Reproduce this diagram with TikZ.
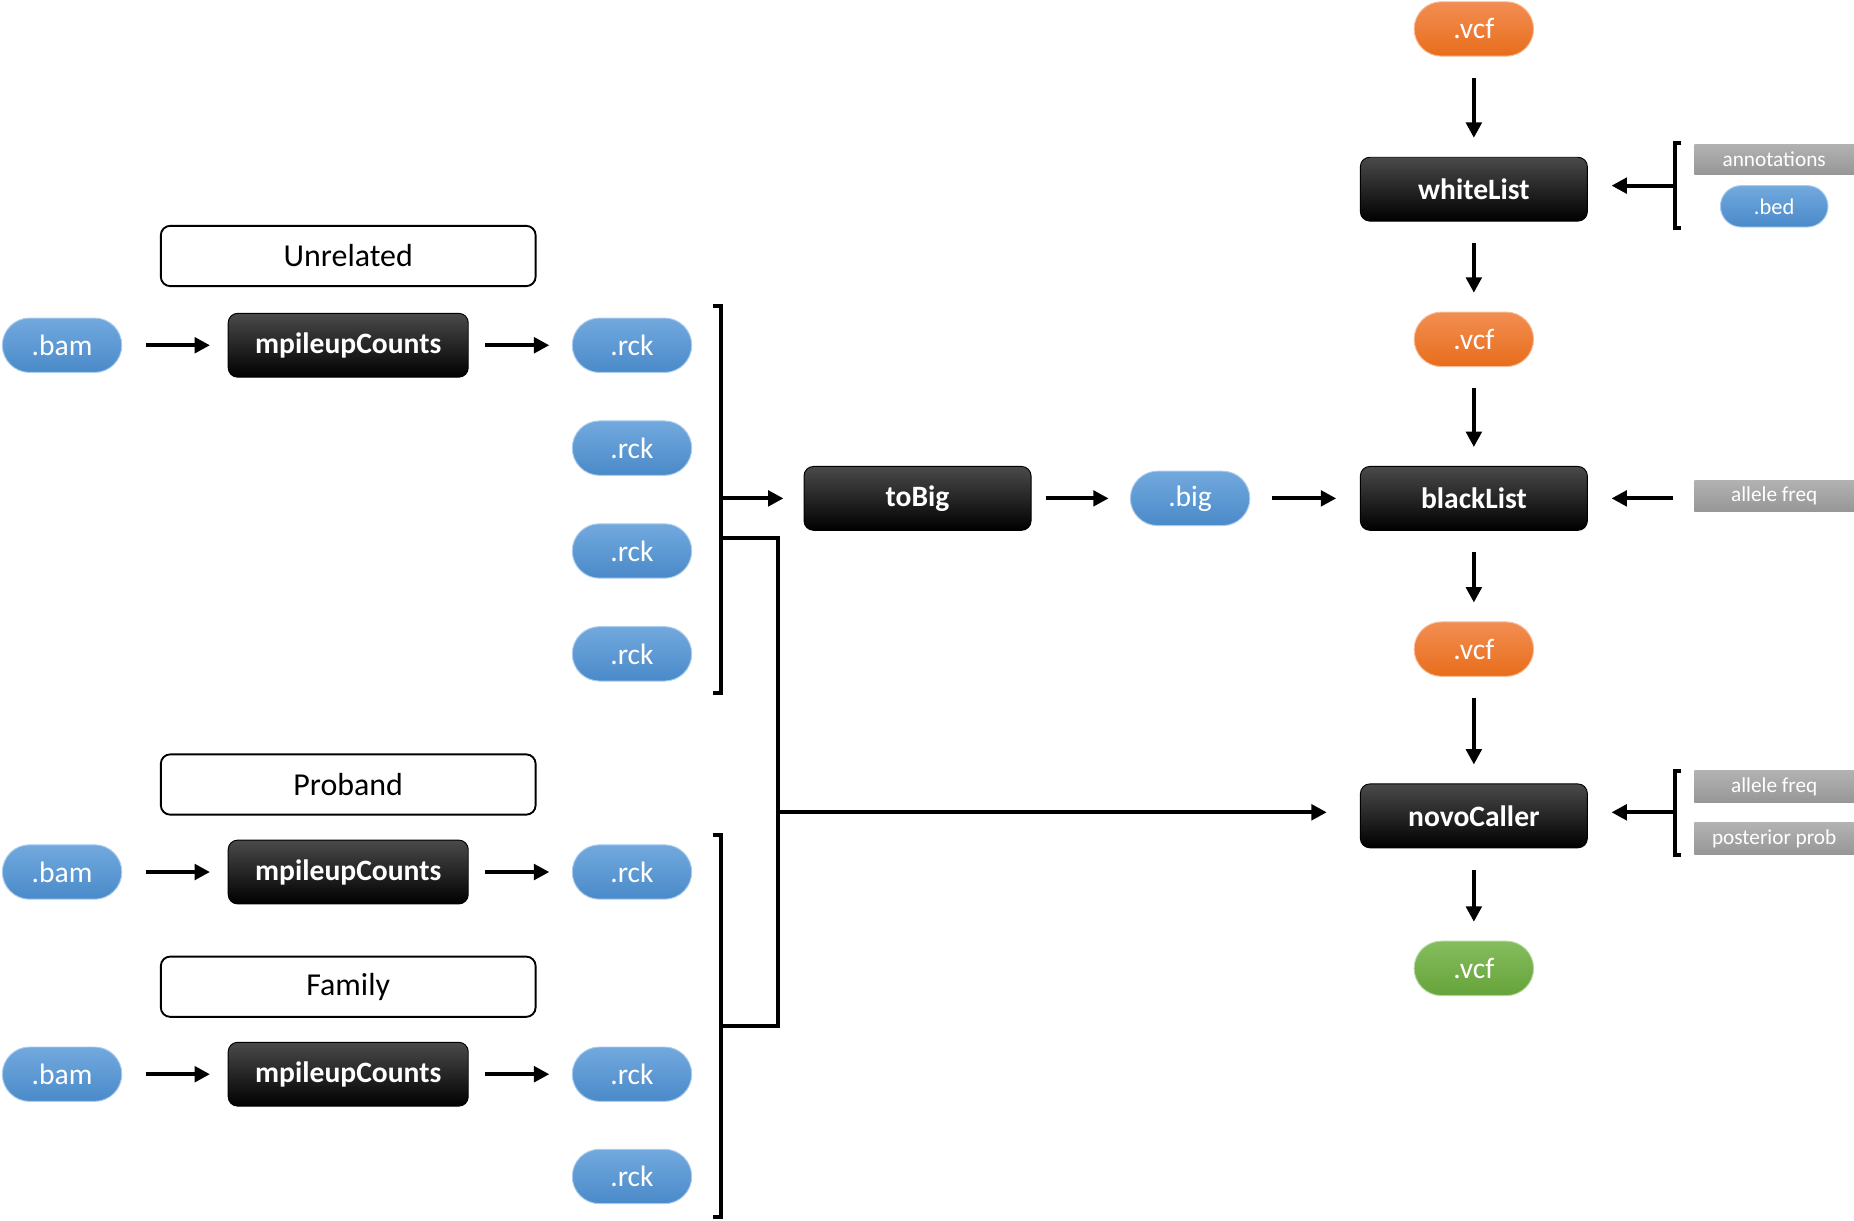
\documentclass[tikz,border=0pt]{standalone}
\usepackage{fontspec}
\setmainfont{Carlito}
\usetikzlibrary{arrows.meta,shapes.misc}
\definecolor{bluetop}{HTML}{72A9DE}
\definecolor{bluebot}{HTML}{4A8AC9}
\definecolor{orangetop}{HTML}{F28E52}
\definecolor{orangebot}{HTML}{E86D1C}
\definecolor{greentop}{HTML}{84BD5E}
\definecolor{greenbot}{HTML}{66A33A}
\definecolor{graytop}{HTML}{B2B2B2}
\definecolor{graybot}{HTML}{969696}
\definecolor{blacktop}{HTML}{4A4A4A}
\tikzset{
  pill/.style={shape=rounded rectangle, minimum width=101pt, minimum height=46pt, inner sep=0pt,
    font=\fontsize{25}{25}\selectfont, text=white, line width=0.8pt},
  bluepill/.style={pill, top color=bluetop, bottom color=bluebot, draw=bluetop!60!white},
  orangepill/.style={pill, top color=orangetop, bottom color=orangebot, draw=orangetop!60!white},
  greenpill/.style={pill, top color=greentop, bottom color=greenbot, draw=greentop!60!white},
  proc/.style={rectangle, rounded corners=8pt, minimum width=192pt, minimum height=54pt, inner sep=0pt,
    font=\bfseries\fontsize{25}{25}\selectfont, text=white, top color=blacktop, middle color=black,
    bottom color=black, draw=black, line width=0.8pt},
  labbox/.style={rectangle, draw=black, line width=1.6pt, rounded corners=8pt, minimum width=317pt,
    minimum height=51pt, inner sep=0pt, font=\fontsize{27}{27}\selectfont},
  graybox/.style={rectangle, minimum width=135pt, minimum height=27pt, inner sep=0pt,
    font=\fontsize{18}{18}\selectfont, text=white, top color=graytop, bottom color=graybot},
  arr/.style={line width=3.4pt, -{Triangle[length=13pt,width=13pt]}},
  brk/.style={line width=3.4pt}
}
\begin{document}
\begin{tikzpicture}[x=1pt,y=-1pt]
\useasboundingbox (0,0) rectangle (1568,1032);
% left column
\node[labbox] (lab1) at (294.5,216.5) {Unrelated};
\node[bluepill] (bam1) at (52.5,292) {.bam};
\node[proc, minimum width=203pt] (mp1) at (294.5,292) {mpileupCounts};
\node[bluepill] (rck1) at (534.5,292) {.rck};
\node[bluepill] (rck2) at (534.5,379) {.rck};
\node[bluepill] (rck3) at (534.5,466) {.rck};
\node[bluepill] (rck4) at (534.5,553) {.rck};
\node[labbox] (lab2) at (294.5,663.5) {Proband};
\node[bluepill] (bam2) at (52.5,737.5) {.bam};
\node[proc, minimum width=203pt] (mp2) at (294.5,737.5) {mpileupCounts};
\node[bluepill] (rck5) at (534.5,737.5) {.rck};
\node[labbox] (lab3) at (294.5,834.5) {Family};
\node[bluepill] (bam3) at (52.5,908.5) {.bam};
\node[proc, minimum width=203pt] (mp3) at (294.5,908.5) {mpileupCounts};
\node[bluepill] (rck6) at (534.5,908.5) {.rck};
\node[bluepill] (rck7) at (534.5,995) {.rck};
% middle
\node[proc] (tobig) at (776,421.5) {toBig};
\node[bluepill] (big) at (1006.5,421.5) {.big};
% right column
\node[orangepill] (vcf1) at (1246.5,24.5) {.vcf};
\node[proc] (white) at (1246.5,160) {whiteList};
\node[orangepill] (vcf2) at (1246.5,287) {.vcf};
\node[proc] (black) at (1246.5,421.5) {blackList};
\node[orangepill] (vcf3) at (1246.5,549) {.vcf};
\node[proc] (novo) at (1246.5,690) {novoCaller};
\node[greenpill] (vcf4) at (1246.5,819) {.vcf};
% side inputs
\node[graybox, minimum height=26pt] (annot) at (1500.5,135) {annotations};
\node[bluepill, minimum width=91pt, minimum height=35pt, font=\fontsize{19}{19}\selectfont] (bed) at (1500.5,174.5) {.bed};
\node[graybox] (af1) at (1500.5,419.5) {allele freq};
\node[graybox] (af2) at (1500.5,665.5) {allele freq};
\node[graybox] (pp) at (1500.5,709.5) {posterior prob};
% row arrows
\foreach \b/\m/\r in {bam1/mp1/rck1, bam2/mp2/rck5, bam3/mp3/rck6}{
  \draw[arr] ([xshift=20pt]\b.east) -- ([xshift=-15pt]\m.west);
  \draw[arr] ([xshift=14pt]\m.east) -- ([xshift=-19pt]\r.west);
}
% brackets on the left
\coordinate (b1t) at (610,259);
\coordinate (b1b) at (610,586);
\draw[brk] (603,259) -- (b1t) -- (b1b) -- (603,586);
\coordinate (b2t) at (610,706);
\coordinate (b2b) at (610,1029);
\draw[brk] (603,706) -- (b2t) -- (b2b) -- (603,1029);
\coordinate (j1) at (610,421.5);
\draw[arr] (j1) -- ([xshift=-17pt]tobig.west);
\coordinate (c1) at (610,455);
\coordinate (c2) at (658,455);
\coordinate (c3) at (658,868);
\coordinate (c4) at (610,868);
\draw[brk] (c1) -- (c2) -- (c3) -- (c4);
\coordinate (j2) at (658,687);
\draw[arr] (j2) -- ([xshift=-28pt]novo.west |- j2);
% middle arrows
\draw[arr] ([xshift=12pt]tobig.east) -- ([xshift=-18pt]big.west);
\draw[arr] ([xshift=18pt]big.east) -- ([xshift=-20pt]black.west);
% vertical chain
\foreach \a/\b in {vcf1/white, white/vcf2, vcf2/black, black/vcf3, vcf3/novo, novo/vcf4}{
  \draw[arr] ([yshift=-18pt]\a.south) -- ([yshift=16pt]\b.north);
}
% right brackets
\coordinate (r1t) at (1417,121);
\coordinate (r1b) at (1417,193);
\draw[brk] (1422,121) -- (r1t) -- (r1b) -- (1422,193);
\coordinate (r1m) at (1417,157);
\draw[arr] (r1m) -- ([xshift=20pt]white.east |- r1m);
\coordinate (r2t) at (1417,652);
\coordinate (r2b) at (1417,723);
\draw[brk] (1422,652) -- (r2t) -- (r2b) -- (1422,723);
\coordinate (r2m) at (1417,687);
\draw[arr] (r2m) -- ([xshift=20pt]novo.east |- r2m);
\draw[arr] ([xshift=-18pt]af1.west |- black.east) -- ([xshift=20pt]black.east);
\end{tikzpicture}
\end{document}
